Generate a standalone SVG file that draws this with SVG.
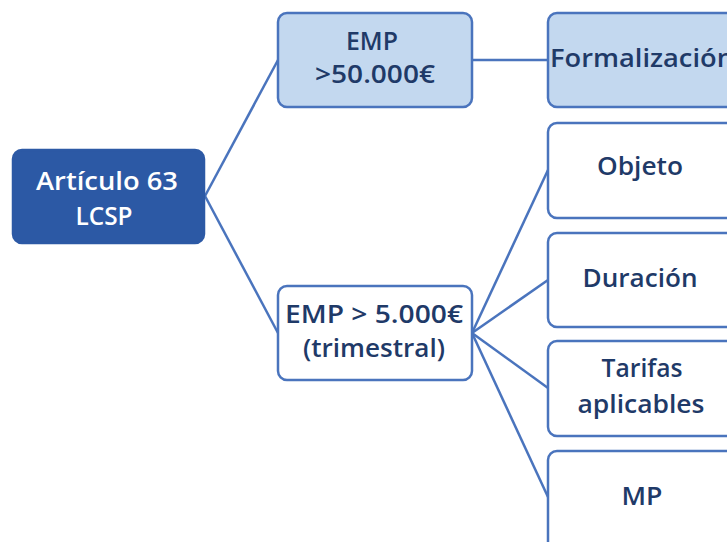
<svg xmlns="http://www.w3.org/2000/svg" width="727" height="542" viewBox="0 0 727 542">
<style>
.box{stroke:#4a74bd;stroke-width:2.5}
.root{fill:#2c59a5;stroke:#2c59a5}
.light{fill:#c3d8ef}
.white{fill:#ffffff}
.t{font-family:"Open Sans","Noto Sans",sans-serif;font-size:25px;font-weight:600;text-anchor:middle;fill:#1f3a68}
.tw{fill:#ffffff}
.c{stroke:#4a74bd;stroke-width:2.5;fill:none}
</style>
<rect width="727" height="542" fill="#ffffff"/>
<g id="connectors">
<line class="c" x1="205" y1="196" x2="278" y2="60"/>
<line class="c" x1="205" y1="196" x2="278" y2="333"/>
<line class="c" x1="472" y1="60" x2="548" y2="60"/>
<line class="c" x1="472" y1="333" x2="548" y2="170"/>
<line class="c" x1="472" y1="333" x2="548" y2="280"/>
<line class="c" x1="472" y1="333" x2="548" y2="388"/>
<line class="c" x1="472" y1="333" x2="548" y2="497"/>
</g>
<g id="root">
<rect class="box root" x="13" y="150" width="191" height="93" rx="9"/>
<text class="t tw" x="107" y="190" textLength="142" lengthAdjust="spacingAndGlyphs">Artículo 63</text>
<text class="t tw" x="104" y="225" textLength="57" lengthAdjust="spacingAndGlyphs">LCSP</text>
</g>
<g id="emp50">
<rect class="box light" x="278" y="13" width="194" height="94" rx="9"/>
<text class="t" x="372" y="50" textLength="52" lengthAdjust="spacingAndGlyphs">EMP</text>
<text class="t" x="375" y="83" textLength="120" lengthAdjust="spacingAndGlyphs">&gt;50.000€</text>
</g>
<g id="formalizacion">
<rect class="box light" x="548" y="13" width="200" height="94" rx="9"/>
<text class="t" x="550" y="67" style="text-anchor:start" textLength="184" lengthAdjust="spacingAndGlyphs">Formalización</text>
</g>
<g id="emp5">
<rect class="box white" x="278" y="286" width="194" height="94" rx="9"/>
<text class="t" x="374" y="323" textLength="178" lengthAdjust="spacingAndGlyphs">EMP &gt; 5.000€</text>
<text class="t" x="374" y="357" textLength="142" lengthAdjust="spacingAndGlyphs">(trimestral)</text>
</g>
<g id="objeto">
<rect class="box white" x="548" y="123" width="200" height="95" rx="9"/>
<text class="t" x="640" y="175" textLength="86" lengthAdjust="spacingAndGlyphs">Objeto</text>
</g>
<g id="duracion">
<rect class="box white" x="548" y="233" width="200" height="94" rx="9"/>
<text class="t" x="640" y="287" textLength="115" lengthAdjust="spacingAndGlyphs">Duración</text>
</g>
<g id="tarifas">
<rect class="box white" x="548" y="341" width="200" height="95" rx="9"/>
<text class="t" x="642" y="377" textLength="81" lengthAdjust="spacingAndGlyphs">Tarifas</text>
<text class="t" x="641" y="413" textLength="127" lengthAdjust="spacingAndGlyphs">aplicables</text>
</g>
<g id="mp">
<rect class="box white" x="548" y="451" width="200" height="110" rx="9"/>
<text class="t" x="642" y="505" textLength="41" lengthAdjust="spacingAndGlyphs">MP</text>
</g>
</svg>
